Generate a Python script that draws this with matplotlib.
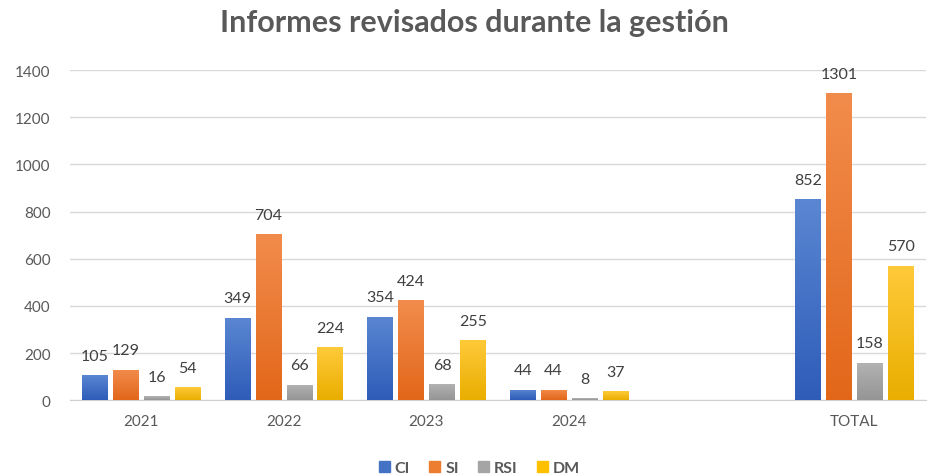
import numpy as np
import matplotlib.pyplot as plt
from matplotlib.colors import LinearSegmentedColormap
from matplotlib.patches import Patch

# Data
categories = ["2021", "2022", "2023", "2024", "", "TOTAL"]
data_pos = [0, 1, 2, 3, 5]  # blank slot between 2024 and TOTAL
ci = [105, 349, 354, 44, 852]
si = [129, 704, 424, 44, 1301]
rsi = [16, 66, 68, 8, 158]
dm = [54, 224, 255, 37, 570]
series = ["CI", "SI", "RSI", "DM"]

# colours: (top, bottom, legend)
colors = {
    "CI": ("#5A86D2", "#2E5CB8", "#4472C4"),
    "SI": ("#F28C4C", "#E2671A", "#ED7D31"),
    "RSI": ("#B3B3B3", "#959595", "#A5A5A5"),
    "DM": ("#FFCA3A", "#E9AE00", "#FFC000"),
}

plt.rcParams['font.family'] = ['Lato', 'DejaVu Sans']
grey = "#595959"

fig = plt.figure(figsize=(9.27, 4.77), dpi=100)
ax = fig.add_axes([0.0755, 0.159, 0.923, 0.692])

width = 0.18
step = 0.217
offsets = (np.arange(4) - 1.5) * step
grad = np.linspace(1, 0, 256).reshape(-1, 1)

for i, (name, vals) in enumerate(zip(series, [ci, si, rsi, dm])):
    top, bottom, _ = colors[name]
    cmap = LinearSegmentedColormap.from_list(name, [bottom, top])
    x = np.array(data_pos) + offsets[i]
    bars = ax.bar(x, vals, width=width, color="none", zorder=3)
    for b, v in zip(bars, vals):
        x0, y0 = b.get_x(), b.get_y()
        im = ax.imshow(grad, cmap=cmap, aspect="auto", zorder=3,
                       extent=[x0, x0 + b.get_width(), y0, y0 + b.get_height()])
        im.set_clip_path(b)
        ax.annotate(str(v), (b.get_x() + b.get_width() / 2, v), xytext=(0, 9),
                    textcoords="offset points", ha="center", va="bottom",
                    fontsize=11.5, color="#404040")

ax.set_xlim(-0.5, 5.5)
ax.set_ylim(0, 1400)
ax.set_yticks(range(0, 1401, 200))
ax.set_xticks(range(len(categories)))
ax.set_xticklabels(categories)
ax.grid(axis="y", color="#D9D9D9", linewidth=1, zorder=0)
for s in ["top", "right", "left"]:
    ax.spines[s].set_visible(False)
ax.spines["bottom"].set_color("#D0D0D0")
ax.tick_params(axis="both", length=0, labelsize=11, labelcolor=grey)
ax.tick_params(axis="y", pad=14)
ax.tick_params(axis="x", pad=10)

fig.suptitle("Informes revisados durante la gestión", x=0.512, y=0.982,
             fontsize=22, fontweight="bold", color=grey)

handles = [Patch(color=colors[n][2], label=n) for n in series]
fig.legend(handles=handles, loc="center", bbox_to_anchor=(0.517, 0.016),
           ncol=4, frameon=False, labelcolor=grey,
           prop={"weight": "bold", "size": 11.5},
           handlelength=0.7, handleheight=0.7, handletextpad=0.3, columnspacing=1.2)

fig.savefig("out.png", dpi=100)
